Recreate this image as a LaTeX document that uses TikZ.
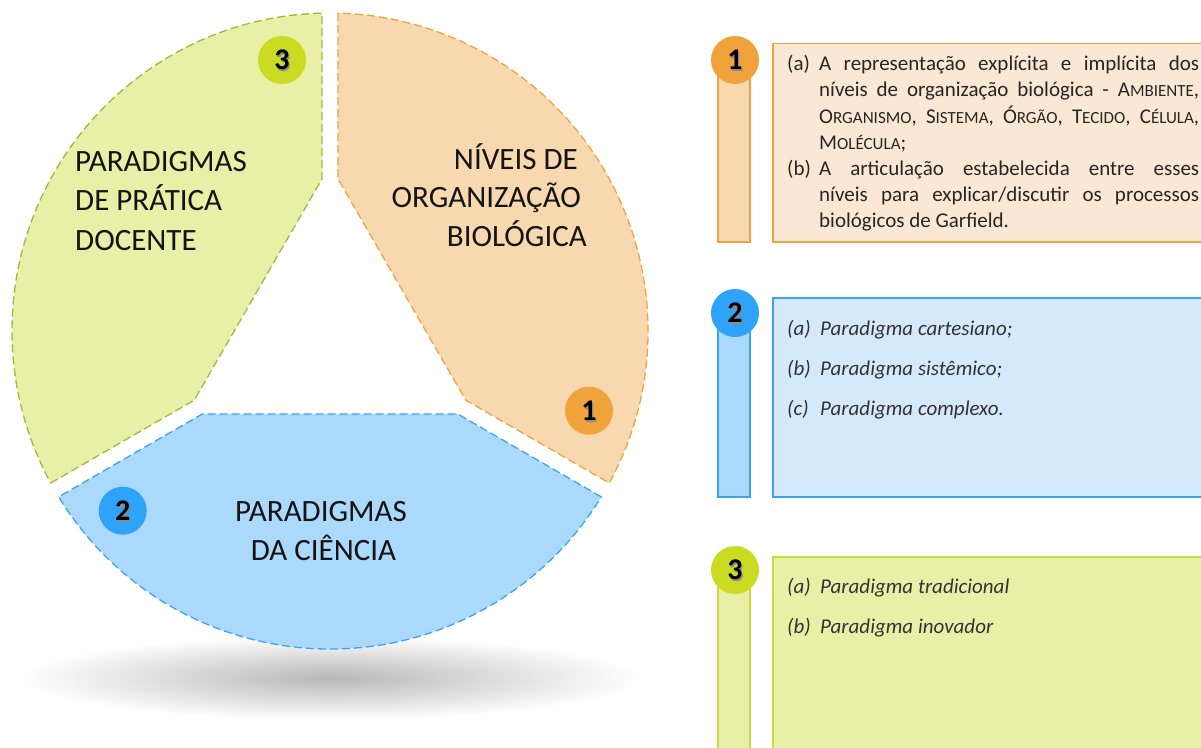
\documentclass[tikz,border=0pt]{standalone}
\usepackage{fontspec}
\setmainfont{Carlito}
\definecolor{oFill}{HTML}{F8D9AF}
\definecolor{oLine}{HTML}{F0A140}
\definecolor{oBadge}{HTML}{F0A33A}
\definecolor{oBox}{HTML}{FBE8D4}
\definecolor{bFill}{HTML}{ABD9FC}
\definecolor{bLine}{HTML}{3AA3F3}
\definecolor{bBadge}{HTML}{2EA3F9}
\definecolor{bBox}{HTML}{D5E9FC}
\definecolor{gFill}{HTML}{E8EFA6}
\definecolor{gLine}{HTML}{A2B83A}
\definecolor{gBadge}{HTML}{CADB22}
\definecolor{gBox}{HTML}{E8EFA6}
\definecolor{gPanel}{HTML}{C8DA3C}
\newcommand\smc[1]{{\fontsize{17}{17}\selectfont #1}}
\newcommand\mybadge[4]{%
  \node[badge, fill=#3] (#1) at #2 {};
  \node[numsh, xshift=1.3pt, yshift=-1.6pt] (#1s) at (#1) {#4};
  \node[num] (#1n) at (#1) {#4};
}
\tikzset{
  seg/.style={dash pattern=on 8pt off 4pt, line width=1.3pt},
  badge/.style={circle, minimum size=48pt, inner sep=0pt},
  num/.style={font=\fontsize{30}{30}\selectfont\bfseries, inner sep=0pt, text=black},
  numsh/.style={font=\fontsize{30}{30}\selectfont\bfseries, inner sep=0pt, text=black!45},
  pietext/.style={font=\fontsize{31}{39}\selectfont, inner sep=0pt, text=black!92},
  panel/.style={line width=1.2pt},
  paneltext/.style={font=\fontsize{21}{26.2}\selectfont, inner sep=0pt, text=black!85,
    text width=412pt, align=justify},
  itemtext/.style={font=\fontsize{21}{26}\selectfont\itshape, inner sep=0pt, text=black!80, anchor=base west},
}
\begin{document}
\begin{tikzpicture}[x=1pt,y=1pt]
\clip (0,0) rectangle (1201,-747);
\fill[white] (0,0) rectangle (1201,-747);

% shadow
\shade[inner color=black!28, outer color=white] (330,-678) ellipse [x radius=312, y radius=42];

% pie segments
\begin{scope}[shift={(330,-331)}]
  \draw[seg, draw=oLine, fill=oFill] (88.56:318) -- (8,152.1) -- (135.7,-69.1) -- (-28.56:318)
     arc[start angle=-28.56, end angle=88.56, radius=318] -- cycle;
  \draw[seg, draw=bLine, fill=bFill, rotate=-120] (88.56:318) -- (8,152.1) -- (135.7,-69.1) -- (-28.56:318)
     arc[start angle=-28.56, end angle=88.56, radius=318] -- cycle;
  \draw[seg, draw=gLine, fill=gFill, rotate=120] (88.56:318) -- (8,152.1) -- (135.7,-69.1) -- (-28.56:318)
     arc[start angle=-28.56, end angle=88.56, radius=318] -- cycle;
\end{scope}

% pie texts
\node[pietext, anchor=base west] (g1) at (75,-171.5) {PARADIGMAS};
\node[pietext, anchor=base west] (g2) at (75,-210.8) {DE PRÁTICA};
\node[pietext, anchor=base west] (g3) at (75,-250) {DOCENTE};
\node[pietext, anchor=base east] (o1) at (578,-169.3) {NÍVEIS DE};
\node[pietext, anchor=base east] (o2) at (581,-207.8) {ORGANIZAÇÃO};
\node[pietext, anchor=base east] (o3) at (587,-246.5) {BIOLÓGICA};
\node[pietext, anchor=base] (b1) at (321,-521.7) {PARADIGMAS};
\node[pietext, anchor=base] (b2) at (323.5,-560.7) {DA CIÊNCIA};

% pie badges
\mybadge{pb3}{(282,-60)}{gBadge}{3}
\mybadge{pb1}{(589,-410.7)}{oBadge}{1}
\mybadge{pb2}{(122.7,-510.7)}{bBadge}{2}

% panel 1
\draw[panel, draw=oLine, fill=oFill] (718,-60) rectangle (750,-242);
\draw[panel, draw=oLine, fill=oBox] (773,-43.3) rectangle (1215,-242);
\mybadge{rb1}{(735,-60)}{oBadge}{1}
\node[paneltext, anchor=base west] (t1) at (787,-70.7) {\tolerance=10000\hbadness=10000
\noindent\hangindent=32pt\hangafter=1\makebox[32pt][l]{(a)}A representação explícita e implícita dos\linebreak
níveis de organização biológica - A\smc{MBIENTE},\linebreak
O\smc{RGANISMO}, S\smc{ISTEMA}, Ó\smc{RGÃO}, T\smc{ECIDO}, C\smc{ÉLULA},\linebreak
M\smc{OLÉCULA};\par
\noindent\hangindent=32pt\hangafter=1\makebox[32pt][l]{(b)}A articulação estabelecida entre esses\linebreak
níveis para explicar/discutir os processos\linebreak
biológicos de Garfield.\par};

% panel 2
\draw[panel, draw=bLine, fill=bFill] (718,-313) rectangle (750,-497);
\draw[panel, draw=bLine, fill=bBox] (773,-298) rectangle (1215,-497);
\mybadge{rb2}{(735,-313)}{bBadge}{2}
\node[itemtext] (t2a) at (787,-335) {\makebox[33pt][l]{(a)}Paradigma cartesiano;};
\node[itemtext] (t2b) at (787,-375) {\makebox[33pt][l]{(b)}Paradigma sistêmico;};
\node[itemtext] (t2c) at (787,-415) {\makebox[33pt][l]{(c)}Paradigma complexo.};

% panel 3
\draw[panel, draw=gPanel, fill=gBox] (718,-570) rectangle (750,-760);
\draw[panel, draw=gPanel, fill=gBox] (773,-557) rectangle (1215,-760);
\mybadge{rb3}{(735,-570)}{gBadge}{3}
\node[itemtext] (t3a) at (787,-593) {\makebox[33pt][l]{(a)}Paradigma tradicional};
\node[itemtext] (t3b) at (787,-633) {\makebox[33pt][l]{(b)}Paradigma inovador};
\end{tikzpicture}
\end{document}
